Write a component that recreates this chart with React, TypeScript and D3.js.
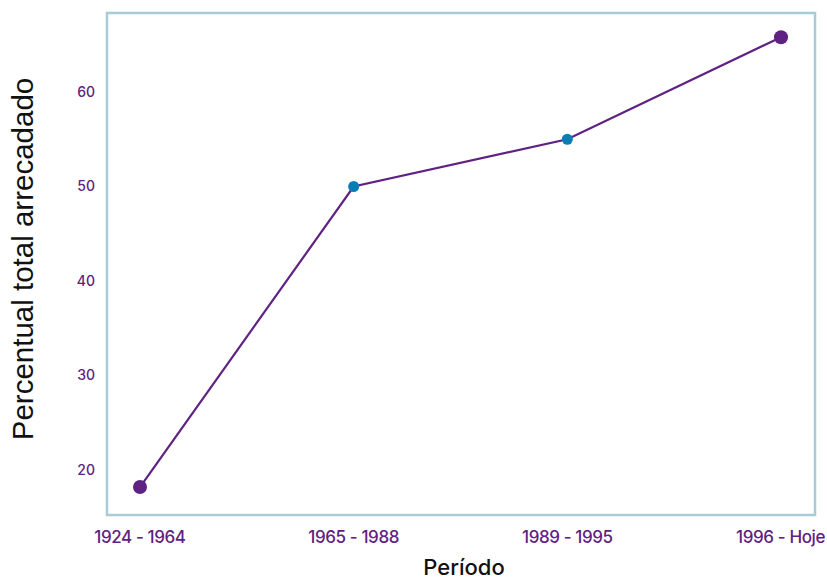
import React, { useEffect, useRef } from 'react';
import * as d3 from 'd3';

const periods = ['1924 - 1964', '1965 - 1988', '1989 - 1995', '1996 - Hoje'];
const values = [18.2, 50, 55, 65.8];
const pointColors = ['#5f2182', '#0a7db4', '#0a7db4', '#5f2182'];
const pointRadius = [7, 5.5, 5.5, 7];
const yTicks = [20, 30, 40, 50, 60];

export default function App() {
  const ref = useRef<SVGSVGElement>(null);

  useEffect(() => {
    const svg = d3.select(ref.current);
    svg.selectAll('*').remove();

    const left = 107, right = 815, top = 13, bottom = 515;

    const x = d3.scalePoint<string>().domain(periods).range([140, 781]);
    const y = d3.scaleLinear().domain([15.24, 68.36]).range([bottom, top]);

    // frame
    svg.append('rect')
      .attr('x', left).attr('y', top)
      .attr('width', right - left).attr('height', bottom - top)
      .attr('fill', 'none')
      .attr('stroke', '#a8ccd7')
      .attr('stroke-width', 2.5);

    // y ticks
    svg.append('g')
      .selectAll('text')
      .data(yTicks)
      .join('text')
      .attr('x', 95)
      .attr('y', d => y(d))
      .attr('dy', '0.35em')
      .attr('text-anchor', 'end')
      .attr('fill', '#5f2182')
      .style('font-family', 'Inter, sans-serif')
      .style('font-weight', 500)
      .style('font-size', '14px')
      .text(d => d);

    // x ticks (kept inside the page edge, like the original)
    svg.append('g')
      .selectAll('text')
      .data(periods)
      .join('text')
      .attr('x', d => x(d)!)
      .attr('y', 543)
      .attr('text-anchor', 'middle')
      .attr('fill', '#5f2182')
      .style('font-family', 'Inter, sans-serif')
      .style('font-weight', 500)
      .style('font-size', '17px')
      .style('letter-spacing', '-0.4px')
      .text(d => d)
      .each(function (d) {
        const w = (this as SVGTextElement).getComputedTextLength();
        const cx = x(d)!;
        if (cx + w / 2 > 825) d3.select(this).attr('x', 825 - w / 2);
      });

    const line = d3.line<number>()
      .x((_, i) => x(periods[i])!)
      .y(d => y(d));

    svg.append('path')
      .datum(values)
      .attr('fill', 'none')
      .attr('stroke', '#5f2182')
      .attr('stroke-width', 2.2)
      .attr('d', line);

    svg.append('g')
      .selectAll('circle')
      .data(values)
      .join('circle')
      .attr('cx', (_, i) => x(periods[i])!)
      .attr('cy', d => y(d))
      .attr('r', (_, i) => pointRadius[i])
      .attr('fill', (_, i) => pointColors[i]);

    // axis titles
    svg.append('text')
      .attr('x', 464)
      .attr('y', 575)
      .attr('text-anchor', 'middle')
      .attr('fill', '#111')
      .style('font-family', 'Inter, sans-serif')
      .style('font-weight', 500)
      .style('font-size', '22px')
      .text('Período');

    svg.append('text')
      .attr('transform', `translate(33, 259) rotate(-90)`)
      .attr('text-anchor', 'middle')
      .attr('fill', '#111')
      .style('font-family', 'Liberation Sans, Arial, sans-serif')
      .style('font-size', '29.5px')
      .text('Percentual total arrecadado');
  }, []);

  return (
    <svg ref={ref} width={827} height={579}
      style={{ position: 'absolute', left: 0, top: 0, background: '#fff' }} />
  );
}
